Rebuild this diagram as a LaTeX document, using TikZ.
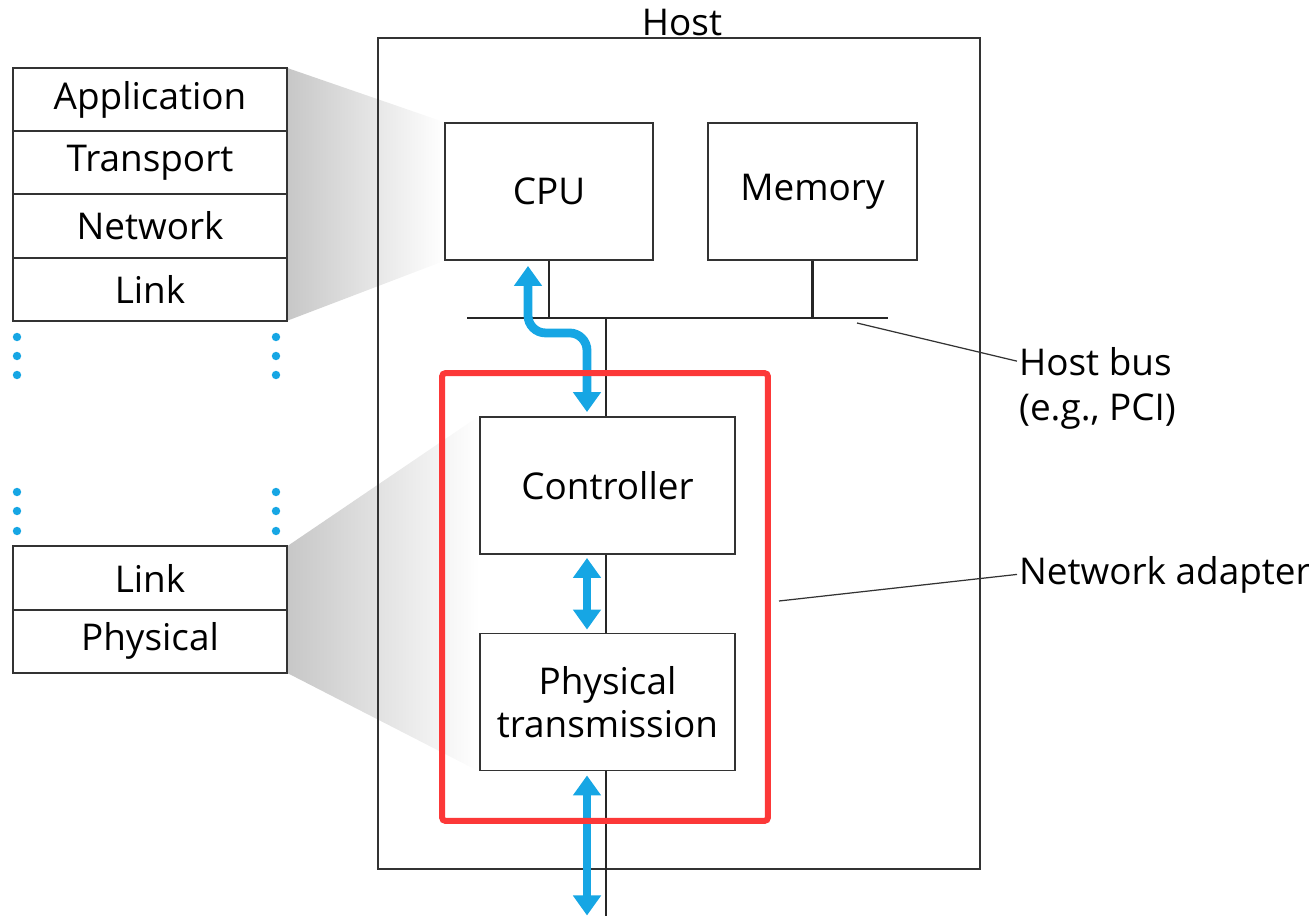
\documentclass[tikz,border=0pt]{standalone}
\usepackage{fontspec}
\setmainfont{Open Sans}
\usetikzlibrary{arrows.meta,positioning,backgrounds}

\definecolor{netblue}{RGB}{22,166,228}
\definecolor{netred}{RGB}{252,56,56}

\tikzset{
	every node/.style={font=\fontsize{21}{24.5}\selectfont},
	layer/.style={draw=black!80, line width=1.1pt, fill=white, minimum width=5.48cm, minimum height=1.265cm, inner sep=0pt, outer sep=0pt},
	unit/.style={draw=black!80, line width=1.1pt, fill=white, align=center, inner sep=0pt, minimum height=2.74cm},
	bus/.style={draw=black!85, line width=1.4pt},
	flow/.style={draw=netblue, line width=5pt, {Triangle[width=0.54cm,length=0.4cm]}-{Triangle[width=0.54cm,length=0.4cm]}},
	nicbox/.style={draw=netred, line width=3.4pt, rounded corners=2pt},
	fade/.style={left color=black!22, right color=white, draw=none},
	callout/.style={draw=black!80, line width=0.7pt},
	tag/.style={inner sep=1pt, anchor=base west},
}

\begin{document}
\begin{tikzpicture}[x=0.02cm, y=-0.02cm]
	\useasboundingbox (0,0) rectangle (1309,916);

	% protocol stacks
	\node [layer] (app) at (150,99.5) {Application};
	\node [layer, below=0pt of app] (trans) {Transport};
	\node [layer, below=0pt of trans] (net) {Network};
	\node [layer, below=0pt of net] (link) {Link};

	\node [layer] (link2) at (150,578) {Link};
	\node [layer, below=0pt of link2] (phy) {Physical};

	% host parts
	\node [unit, minimum width=4.16cm] (cpu) at (549,191.5) {CPU};
	\node [unit, minimum width=4.18cm] (mem) at (812.5,191.5) {Memory};
	\node [unit, minimum width=5.1cm] (ctrl) at (607.5,485.5) {Controller};
	\node [unit, minimum width=5.1cm] (phys) at (607.5,702) {Physical\\transmission};

	% grey wedges
	\begin{scope}[on background layer]
	\shade [fade] (app.north east) -- (cpu.north west) -- (cpu.south west) -- (link.south east) -- cycle;
	\shade [fade] (link2.north east) -- (ctrl.north west) -- (phys.south west) -- (phy.south east) -- cycle;
	\end{scope}

	\node [draw=black!80, line width=1.1pt, minimum width=12.04cm, minimum height=16.62cm] (host) at (679,453.5) {};
	\node [anchor=base, inner sep=0pt] (hostlbl) at (682,35) {Host};

	% bus
	\coordinate (busL) at (467,318);
	\coordinate (busR) at (888,318);
	\coordinate (cable) at (606,916);
	\draw [bus] (busL) -- (busR);
	\draw [bus] (cpu.south) -- (cpu.south |- busL);
	\draw [bus] (mem.south) -- (mem.south |- busL);
	\draw [bus] (cable |- busL) -- (cable |- ctrl.north);
	\draw [bus] (cable |- ctrl.south) -- (cable |- phys.north);
	\draw [bus] (cable |- phys.south) -- (cable);

	% data flow
	\draw [flow, rounded corners=0.35cm, shorten <=0.1cm, shorten >=0.08cm]
		([xshift=-0.42cm]cpu.south) -- ++(0,72) -| ([xshift=-0.41cm]ctrl.north);
	\draw [flow, shorten <=0.06cm, shorten >=0.06cm] ([xshift=-0.41cm]ctrl.south) -- ([xshift=-0.41cm]phys.north);
	\draw [flow, shorten <=0.08cm] ([xshift=-0.41cm]phys.south) -- ++(0,144);

	% dots between the stacks
	\fill [netblue] (17,337) circle (2.4pt) (17,356) circle (2.4pt) (17,375) circle (2.4pt);
	\fill [netblue] (276,337) circle (2.4pt) (276,356) circle (2.4pt) (276,375) circle (2.4pt);
	\fill [netblue] (17,492) circle (2.4pt) (17,511) circle (2.4pt) (17,531) circle (2.4pt);
	\fill [netblue] (276,492) circle (2.4pt) (276,511) circle (2.4pt) (276,531) circle (2.4pt);

	% network adapter
	\node [nicbox, minimum width=6.52cm, minimum height=8.96cm] (nic) at (605,597) {};

	% labels
	\node [tag] (buslbl) at (1017,375) {Host bus};
	\node [tag] (pcilbl) at (1017,420) {(e.g., PCI)};
	\node [tag] (niclbl) at (1017,584) {Network adapter};
	\coordinate (bustap) at (857,323);
	\coordinate (nictap) at (779,601);
	\draw [callout] (bustap) -- (buslbl.west);
	\draw [callout] (nictap) -- (niclbl.west);
\end{tikzpicture}
\end{document}
